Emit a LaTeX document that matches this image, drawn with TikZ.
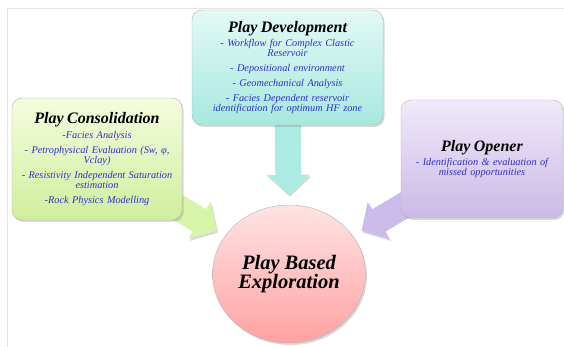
\documentclass[tikz,border=0pt]{standalone}
\usepackage{fontspec}
\setmainfont{Liberation Serif}
\usepackage{tikz}
\usepackage{xcolor}
\usetikzlibrary{arrows.meta,backgrounds,shapes.geometric,shadows}
\definecolor{devtop}{HTML}{E4F9F5}
\definecolor{devbot}{HTML}{A6E9DF}
\definecolor{constop}{HTML}{F5FCDF}
\definecolor{consbot}{HTML}{CFEF9C}
\definecolor{opentop}{HTML}{F0E9F9}
\definecolor{openbot}{HTML}{CBBAE7}
\definecolor{hubtop}{HTML}{FFE3E3}
\definecolor{hubbot}{HTML}{FFA2A2}
\definecolor{itemblue}{HTML}{2F2FD2}
\tikzset{%
  playbox/.style={draw=black!30,rounded corners=10pt,align=center,inner sep=2pt,
    font=\itshape\fontsize{10.3}{10}\selectfont,text=itemblue,
    drop shadow={opacity=0.3,shadow xshift=1.5pt,shadow yshift=-2pt}},
  hub/.style={ellipse,draw=black!30,top color=hubtop,bottom color=hubbot,align=center,
    font=\bfseries\itshape\fontsize{20.5}{19.5}\selectfont,
    drop shadow={opacity=0.3,shadow xshift=1.5pt,shadow yshift=-2pt}},
  flow/.style={line width=26pt,-{Triangle[width=42pt,length=20pt]},shorten >=10pt,
    preaction={draw=black!15,transform canvas={shift={(1.5pt,-2pt)}}}},
}
\newcommand{\playtitle}[1]{{\color{black}\bfseries\fontsize{16}{16}\selectfont #1}\\[3pt]}

\begin{document}
\begin{tikzpicture}[x=1pt,y=-1pt]
  \useasboundingbox (0,0) rectangle (564,347);
  \draw[black!10] (7,347) -- (7,8) -- (564,8);

  \node[hub,minimum width=150pt,minimum height=138pt] (pbe) at (289,274) {Play Based\\Exploration};

  \node[playbox,top color=devtop,bottom color=devbot,minimum width=191pt,minimum height=115pt,text width=187pt]
    (dev) at (287.5,67.5) {\playtitle{Play Development}
      - Workflow for Complex Clastic\\Reservoir\\[5pt]
      - Depositional environment\\[5pt]
      - Geomechanical Analysis\\[5pt]
      - Facies Dependent reservoir\\identification for optimum HF zone};
  \node[playbox,top color=constop,bottom color=consbot,minimum width=170pt,minimum height=122pt,text width=166pt]
    (cons) at (97,159) {\playtitle{Play Consolidation}
      -Facies Analysis\\[5pt]
      - Petrophysical Evaluation (Sw, φ,\\Vclay)\\[5pt]
      - Resistivity Independent Saturation\\estimation\\[5pt]
      -Rock Physics Modelling};
  \node[playbox,top color=opentop,bottom color=openbot,minimum width=162pt,minimum height=118pt,text width=158pt]
    (open) at (482,159) {\playtitle{Play Opener}
      - Identification \& evaluation of\\missed opportunities};

  % block arrows into the hub, kept behind the boxes
  \begin{pgfonlayer}{background}
    \draw[flow,draw={rgb,255:red,171;green,235;blue,225}] (dev.center) -- (pbe);
    \draw[flow,draw={rgb,255:red,214;green,245;blue,168}] (cons.center) -- (pbe);
    \draw[flow,draw={rgb,255:red,204;green,188;blue,234}] (open.center) -- (pbe);
  \end{pgfonlayer}
\end{tikzpicture}
\end{document}
